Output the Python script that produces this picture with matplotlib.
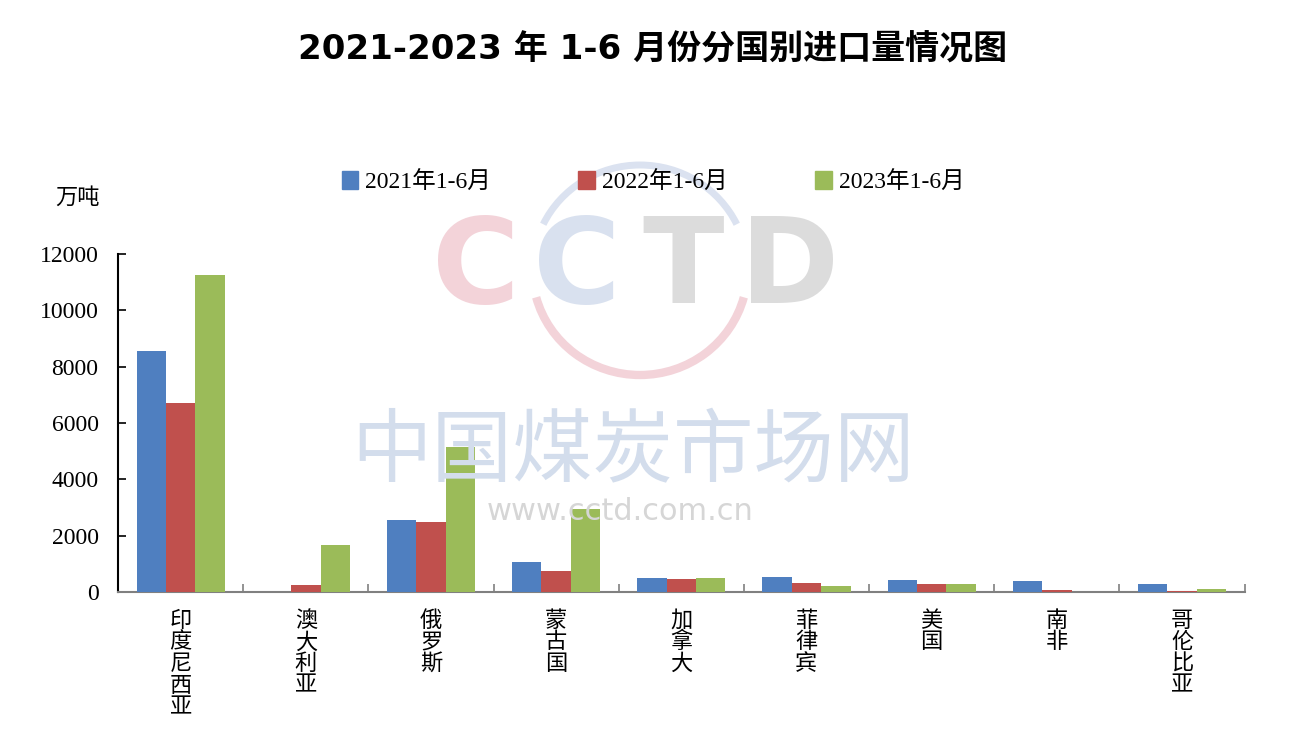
import numpy as np
import matplotlib.pyplot as plt
from matplotlib.patches import Patch, Arc

plt.rcParams['font.family'] = ['Liberation Serif', 'Noto Sans CJK SC', 'DejaVu Sans']

countries = ['印度尼西亚', '澳大利亚', '俄罗斯', '蒙古国', '加拿大', '菲律宾', '美国', '南非', '哥伦比亚']
v2021 = [8550, 0, 2560, 1060, 500, 530, 430, 390, 290]
v2022 = [6710, 250, 2480, 750, 450, 320, 280, 60, 50]
v2023 = [11250, 1670, 5150, 2950, 480, 200, 280, 0, 100]
series = ['2021年1-6月', '2022年1-6月', '2023年1-6月']
colors = ['#4F7FC0', '#C0504D', '#9BBB59']

W, H = 1306, 736
fig = plt.figure(figsize=(13.06, 7.36), dpi=100)
ax = fig.add_axes([0.0904, 0.1957, 0.8626, 0.4592])

# faint CCTD watermark like the source
for ch, px, c in [('C', 476, '#f3d3d9'), ('C', 577, '#d9e1ef'), ('T', 683, '#dcdcdc'), ('D', 790, '#dcdcdc')]:
    fig.text(px / W, 1 - 270 / H, ch, fontsize=86, fontweight='bold', color=c, ha='center',
             va='center', family='DejaVu Sans', zorder=0)
fig.patches.append(Arc((640 / W, 1 - 270 / H), 215 / W, 210 / H, theta1=40, theta2=140,
                       color='#dbe2f0', lw=5, transform=fig.transFigure, zorder=0))
fig.patches.append(Arc((640 / W, 1 - 270 / H), 215 / W, 210 / H, theta1=205, theta2=335,
                       color='#f3d3d9', lw=6, transform=fig.transFigure, zorder=0))
fig.text(0.485, 0.385, '中国煤炭市场网', fontsize=58, color='#d3ddec', ha='center', va='center',
         family='Noto Sans CJK SC', zorder=0)
fig.text(0.475, 0.305, 'www.cctd.com.cn', fontsize=22, color='#d6d6d6', ha='center', va='center',
         family='DejaVu Sans', zorder=0)

x = np.arange(len(countries))
w = 0.235
for i, (vals, c) in enumerate(zip([v2021, v2022, v2023], colors)):
    ax.bar(x + (i - 1) * w, vals, w, color=c, zorder=3)

ax.set_xlim(-0.5, len(countries) - 0.5)
ax.set_ylim(0, 12000)
ax.set_yticks(range(0, 12001, 2000))
ax.tick_params(axis='y', direction='in', length=6, labelsize=17, width=1.2, pad=14)
ax.set_xticks(np.arange(-0.5, len(countries), 1))
ax.set_xticklabels([])
ax.tick_params(axis='x', direction='in', length=6, color='#808080', width=1.2)
for s in ['top', 'right']:
    ax.spines[s].set_visible(False)
ax.spines['left'].set_linewidth(1.5)
ax.spines['bottom'].set_color('#808080')
ax.spines['bottom'].set_linewidth(1.5)
ax.patch.set_alpha(0)

for xi, name in zip(x, countries):
    ax.text(xi, -600, '\n'.join(name), ha='center', va='top', fontsize=16,
            family=['Noto Sans CJK SC'], linespacing=0.92)

fig.text(0.042, 0.732, '万吨', fontsize=16, family=['Noto Sans CJK SC'], va='center')

fig.suptitle('2021-2023 年 1-6 月份分国别进口量情况图', y=0.955, fontsize=24.5, fontweight='bold',
             family=['DejaVu Sans', 'Noto Sans CJK SC'])

handles = [Patch(color=c) for c in colors]
fig.legend(handles, series, loc='center', bbox_to_anchor=(0.5, 0.752), ncol=3, frameon=False,
           fontsize=17, handlelength=0.7, handleheight=0.8, handletextpad=0.3, columnspacing=3.7)

fig.savefig('out.png', dpi=100)
